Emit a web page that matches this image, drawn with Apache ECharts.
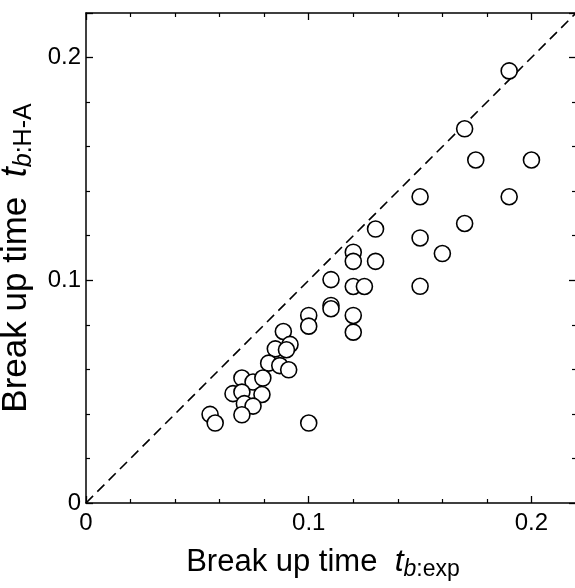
<!DOCTYPE html>
<html>
<head>
<meta charset="utf-8">
<script src="https://cdn.jsdelivr.net/npm/echarts@6/dist/echarts.min.js"></script>
<style>
html,body{margin:0;padding:0;background:#fff;}
#chart{width:575px;height:588px;}
</style>
</head>
<body>
<div id="chart"></div>
<script>
// Break up time, experimental (x) vs H-A model (y)
var expTimes = [0.19, 0.17, 0.175, 0.2, 0.15, 0.19, 0.17, 0.13, 0.15, 0.16,
  0.12, 0.12, 0.13, 0.11, 0.12, 0.125, 0.15, 0.11, 0.11, 0.1,
  0.12, 0.1, 0.12, 0.0886, 0.0916, 0.085, 0.09, 0.082, 0.087, 0.091,
  0.07, 0.075, 0.0794, 0.066, 0.07, 0.079, 0.0711, 0.075, 0.07, 0.0557,
  0.058, 0.1];
var haTimes = [0.194, 0.168, 0.154, 0.154, 0.1375, 0.1375, 0.1255, 0.123, 0.119, 0.112,
  0.1126, 0.1085, 0.1085, 0.1003, 0.0972, 0.0972, 0.0973, 0.0887, 0.0872, 0.0842,
  0.0842, 0.0794, 0.0767, 0.077, 0.0712, 0.0692, 0.0688, 0.0628, 0.0617, 0.0598,
  0.0561, 0.0543, 0.0561, 0.0491, 0.0498, 0.0487, 0.0446, 0.0435, 0.0396, 0.0398,
  0.0359, 0.0359];
var parityLine = [[0, 0], [0.22, 0.22]];
var axisMin = 0, axisMax = 0.22, axisStep = 0.1;

var FONT = 'Liberation Sans, Arial, Helvetica, sans-serif';
var points = expTimes.map(function (x, i) { return [x, haTimes[i]]; });
function fmt(v) { return v === 0 ? '0' : String(Math.round(v * 10) / 10); }

function axisBase(pos, showLabel) {
  return {
    type: 'value', position: pos, min: axisMin, max: axisMax, interval: axisStep,
    axisLine: { show: true, onZero: false, lineStyle: { color: '#000', width: 1.5 } },
    axisTick: { show: true, inside: true, length: 7, lineStyle: { color: '#000', width: 1.3 } },
    minorTick: { show: true, splitNumber: 5, length: 4, lineStyle: { color: '#000', width: 1.2 } },
    splitLine: { show: false },
    axisLabel: { show: showLabel, showMaxLabel: false, formatter: fmt, fontSize: 24, color: '#000', fontFamily: FONT }
  };
}

var xBottom = axisBase('bottom', true);
xBottom.axisLabel.margin = 8;
xBottom.name = '{a|Break up time  }{t|t}{b|b}{c|:exp}';
xBottom.nameLocation = 'middle';
xBottom.nameGap = 41;
xBottom.nameTextStyle = {
  color: '#000', fontFamily: FONT, fontSize: 31, padding: [0, 16, 0, 0],
  rich: {
    a: { fontSize: 31, fontFamily: FONT, color: '#000' },
    t: { fontSize: 32, fontStyle: 'italic', fontFamily: FONT, color: '#000' },
    b: { fontSize: 23, fontStyle: 'italic', fontFamily: FONT, color: '#000', padding: [14, 0, 0, 0] },
    c: { fontSize: 23, fontFamily: FONT, color: '#000', padding: [14, 0, 0, 0] }
  }
};
var xTop = axisBase('top', false);

var yLeft = axisBase('left', true);
yLeft.axisLabel.margin = 5;
yLeft.name = '{a|Break up time  }{t|t}{b|b}{c|:H-A}';
yLeft.nameLocation = 'middle';
yLeft.nameGap = 42;
yLeft.nameTextStyle = {
  color: '#000', fontFamily: FONT, fontSize: 35,
  rich: {
    a: { fontSize: 35, fontFamily: FONT, color: '#000' },
    t: { fontSize: 36, fontStyle: 'italic', fontFamily: FONT, color: '#000' },
    b: { fontSize: 25, fontStyle: 'italic', fontFamily: FONT, color: '#000', padding: [16, 0, 0, 0] },
    c: { fontSize: 25, fontFamily: FONT, color: '#000', padding: [16, 0, 0, 0] }
  }
};
var yRight = axisBase('right', false);

var chart = echarts.init(document.getElementById('chart'), null, { renderer: 'canvas' });
chart.setOption({
  backgroundColor: '#fff',
  animation: false,
  grid: { left: 86, right: -1, top: 13, bottom: 85, containLabel: false, outerBoundsMode: 'none' },
  xAxis: [xBottom, xTop],
  yAxis: [yLeft, yRight],
  series: [
    {
      type: 'line', xAxisIndex: 0, yAxisIndex: 0, data: parityLine,
      symbol: 'none', z: 1, silent: true,
      lineStyle: { color: '#000', width: 1.6, type: [10, 6] }
    },
    {
      type: 'scatter', xAxisIndex: 0, yAxisIndex: 0, data: points,
      symbol: 'circle', symbolSize: 16, z: 2,
      itemStyle: { color: '#fff', borderColor: '#000', borderWidth: 1.6, opacity: 1 }
    }
  ]
});
</script>
</body>
</html>
